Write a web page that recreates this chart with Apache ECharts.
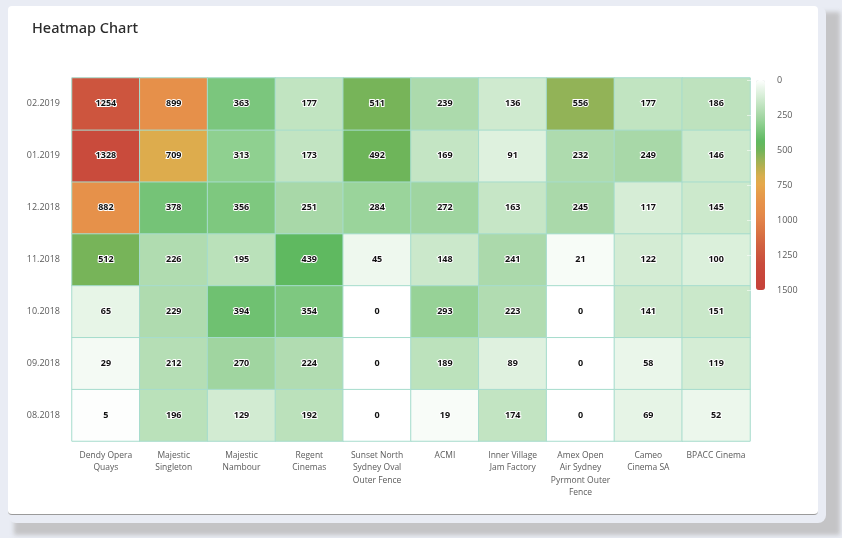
<!DOCTYPE html>
<html>
<head>
<meta charset="utf-8">
<script src="https://cdn.jsdelivr.net/npm/echarts@6/dist/echarts.min.js"></script>
<style>
  html, body { margin: 0; padding: 0; width: 842px; height: 538px; overflow: hidden; background: #e9ecf4; }
  #shadow { position: absolute; left: 14px; top: 12px; width: 826px; height: 523px; background: #c4c4c6; filter: blur(2px); }
  #card { position: absolute; left: 8px; top: 6px; width: 810px; height: 508px; background: #ffffff; border-radius: 4px; border-bottom: 1px solid #9a9a9a; box-shadow: 4px 4px 0 4px #e9ecf4; }
  #main { position: absolute; left: 0; top: 0; width: 842px; height: 538px; }
</style>
</head>
<body>
<div id="shadow"></div>
<div id="card"></div>
<div id="main"></div>
<script>
// Column categories (venues)
const venues = ['Dendy Opera Quays', 'Majestic Singleton', 'Majestic Nambour', 'Regent Cinemas',
  'Sunset North Sydney Oval Outer Fence', 'ACMI', 'Inner Village Jam Factory',
  'Amex Open Air Sydney Pyrmont Outer Fence', 'Cameo Cinema SA', 'BPACC Cinema'];
// Tick labels for the venues, wrapped as in the source chart
const venueTickLabels = ['Dendy Opera\nQuays', 'Majestic\nSingleton', 'Majestic\nNambour', 'Regent\nCinemas',
  'Sunset North\nSydney Oval\nOuter Fence', 'ACMI', 'Inner Village\nJam Factory',
  'Amex Open\nAir Sydney\nPyrmont Outer\nFence', 'Cameo\nCinema SA', 'BPACC Cinema'];
// Row categories, bottom to top
const months = ['08.2018', '09.2018', '10.2018', '11.2018', '12.2018', '01.2019', '02.2019'];
// Values per month (one entry per venue)
const v_08_2018 = [5, 196, 129, 192, 0, 19, 174, 0, 69, 52];
const v_09_2018 = [29, 212, 270, 224, 0, 189, 89, 0, 58, 119];
const v_10_2018 = [65, 229, 394, 354, 0, 293, 223, 0, 141, 151];
const v_11_2018 = [512, 226, 195, 439, 45, 148, 241, 21, 122, 100];
const v_12_2018 = [882, 378, 356, 251, 284, 272, 163, 245, 117, 145];
const v_01_2019 = [1328, 709, 313, 173, 492, 169, 91, 232, 249, 146];
const v_02_2019 = [1254, 899, 363, 177, 511, 239, 136, 556, 177, 186];
const scaleTicks = [0, 250, 500, 750, 1000, 1250, 1500];

const rows = [v_08_2018, v_09_2018, v_10_2018, v_11_2018, v_12_2018, v_01_2019, v_02_2019];
const data = [];
rows.forEach((row, yi) => row.forEach((val, xi) => data.push([xi, yi, val])));

const colorStops = ['#ffffff', '#e8f5e8', '#d3ecd3', '#bde2bd', '#a8d8a8', '#8fd090', '#76c478', '#5fb960',
  '#70b459', '#96b357', '#b8b04f', '#d8ae4e', '#e6a84b', '#e69c4a', '#e6924a', '#e58c49', '#e2834a',
  '#dc7845', '#d66c42', '#d16040', '#cd563e', '#c94c3c', '#c8473b', '#c7443a', '#c6423a'];

const chart = echarts.init(document.getElementById('main'), null, { renderer: 'canvas' });
const labelFont = '"Open Sans", "DejaVu Sans", sans-serif';
chart.setOption({
  backgroundColor: 'transparent',
  animation: false,
  title: {
    text: 'Heatmap Chart', left: 27, top: 16,
    textStyle: { fontFamily: '"Noto Sans", sans-serif', fontSize: 14.5, fontWeight: 500, color: '#2b2b2b' }
  },
  grid: [
    { left: 72, right: 92, top: 78, bottom: 97 },
    { left: 756, width: 9, top: 80, height: 210 }
  ],
  xAxis: [
    {
      type: 'category', data: venues, gridIndex: 0,
      axisLine: { show: false }, axisTick: { show: false }, splitArea: { show: false },
      axisLabel: {
        interval: 0, color: '#5a5a5a', fontSize: 8.5, fontFamily: labelFont, margin: 8, lineHeight: 12.5,
        formatter: (v, i) => venueTickLabels[i]
      }
    },
    { type: 'value', gridIndex: 1, show: false, min: 0, max: 1 }
  ],
  yAxis: [
    {
      type: 'category', data: months, gridIndex: 0,
      axisLine: { show: false }, axisTick: { show: false },
      axisLabel: { color: '#5a5a5a', fontSize: 9, fontFamily: labelFont, margin: 12 }
    },
    {
      type: 'value', gridIndex: 1, min: scaleTicks[0], max: scaleTicks[scaleTicks.length - 1], interval: 250,
      inverse: true, position: 'right',
      axisLine: { show: false }, splitLine: { show: false },
      axisTick: { show: true, inside: true, length: 9, lineStyle: { color: 'rgba(255,255,255,0.55)', width: 1 } },
      axisLabel: { color: '#5a5a5a', fontSize: 9, fontFamily: labelFont, margin: 12, formatter: (v) => String(v) },
      z: 10
    }
  ],
  visualMap: {
    type: 'continuous', min: 0, max: 1500, orient: 'vertical', inverse: true,
    left: 756, top: 80, itemWidth: 9, itemHeight: 210, padding: 0,
    calculable: false, text: null, showLabel: false, seriesIndex: 0,
    inRange: { color: colorStops }
  },
  series: [{
    type: 'heatmap', data: data, xAxisIndex: 0, yAxisIndex: 0,
    itemStyle: { borderColor: '#a6dccd', borderWidth: 1 },
    label: {
      show: true, color: '#111', fontSize: 9, fontWeight: 'bold', fontFamily: labelFont,
      textBorderColor: '#ffffff', textBorderWidth: 2
    }
  }]
});
</script>
</body>
</html>
